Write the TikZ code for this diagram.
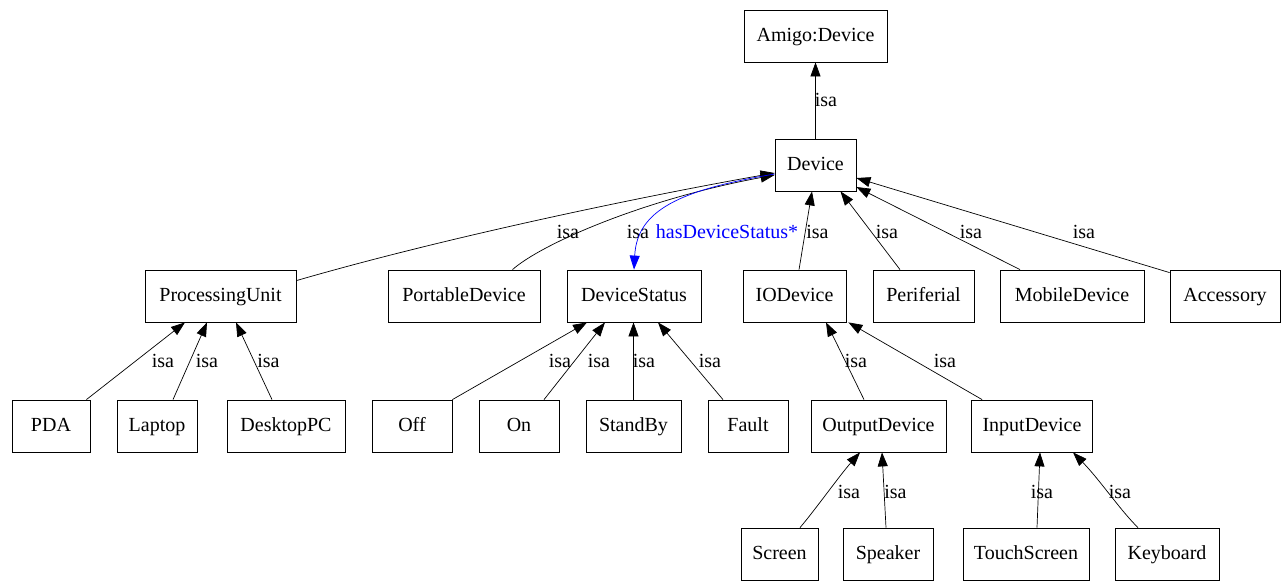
\documentclass[tikz,border=0pt]{standalone}
\usepackage{fontspec}
\setmainfont{Liberation Serif}
\usetikzlibrary{arrows.meta}
\definecolor{relblue}{RGB}{0,0,255}
\tikzset{
  box/.style={draw, line width=0.8pt, minimum height=52pt, inner sep=0pt, text height=14pt, text depth=4pt, font=\fontsize{20}{24}\selectfont},
  isa/.style={line width=0.7pt, -{Triangle[length=14pt,width=10pt]}},
  rel/.style={line width=0.7pt, draw=relblue, -{Triangle[length=14pt,width=10pt,fill=relblue]}},
  lbl/.style={inner sep=0pt, font=\fontsize{20}{24}\selectfont},
  rlbl/.style={lbl, text=relblue}
}
\begin{document}
\begin{tikzpicture}[x=1pt,y=-1pt]
\useasboundingbox[fill=white] (0,0) rectangle (1285,581);
% nodes
\node[box, minimum width=143pt] (amigo) at (815.5,36) {Amigo:Device};
\node[box, minimum width=81pt] (dev) at (815.5,165) {Device};
\node[box, minimum width=151pt] (pu) at (220.5,296) {ProcessingUnit};
\node[box, minimum width=152pt] (port) at (464,296) {PortableDevice};
\node[box, minimum width=134pt] (ds) at (634,296) {DeviceStatus};
\node[box, minimum width=103pt] (io) at (794.5,296) {IODevice};
\node[box, minimum width=101pt] (peri) at (923.5,296) {Periferial};
\node[box, minimum width=144pt] (mob) at (1072,296) {MobileDevice};
\node[box, minimum width=110pt] (acc) at (1225,296) {Accessory};
\node[box, minimum width=78pt] (pda) at (51,426) {PDA};
\node[box, minimum width=80pt] (laptop) at (157,426) {Laptop};
\node[box, minimum width=118pt] (desk) at (286,426) {DesktopPC};
\node[box, minimum width=80pt] (off) at (412,426) {Off};
\node[box, minimum width=80pt] (on) at (519,426) {On};
\node[box, minimum width=95pt] (standby) at (633.5,426) {StandBy};
\node[box, minimum width=80pt] (fault) at (748,426) {Fault};
\node[box, minimum width=135pt] (outd) at (878.5,426) {OutputDevice};
\node[box, minimum width=121pt] (ind) at (1032,426) {InputDevice};
\node[box, minimum width=77pt] (screen) at (779.5,554) {Screen};
\node[box, minimum width=90pt] (speaker) at (888,554) {Speaker};
\node[box, minimum width=126pt] (touch) at (1026,554) {TouchScreen};
\node[box, minimum width=104pt] (keyb) at (1167,554) {Keyboard};
% edges to Amigo:Device
\draw[isa] (dev.north) -- (amigo.south) node[lbl] at (826,100) {isa};
% edges to Device
\draw[isa] ([yshift=-11pt]pu.north east) .. controls (450,236) and (650,195) .. ([yshift=-8pt]dev.west) node[lbl] at (568,232) {isa};
\draw[isa] ([xshift=48.5pt]port.north) .. controls (540,245) and (640,200) .. ([yshift=-10pt]dev.west) node[lbl] at (638,232) {isa};
\draw[rel] ([yshift=-9pt]dev.west) .. controls (680,190) and (637,210) .. (ds.north) node[rlbl] at (727,232) {hasDeviceStatus*};
\draw[isa] ([xshift=4.5pt]io.north) -- ([xshift=-3.5pt]dev.south) node[lbl] at (817.5,232) {isa};
\draw[isa] ([xshift=-23.5pt]peri.north) -- ([xshift=25pt]dev.south) node[lbl] at (887,232) {isa};
\draw[isa] ([xshift=-52pt]mob.north) -- ([yshift=-22pt]dev.east) node[lbl] at (971,232) {isa};
\draw[isa] ([yshift=-3pt]acc.north west) -- ([yshift=-13pt]dev.east) node[lbl] at (1084,232) {isa};
% edges to ProcessingUnit
\draw[isa] ([xshift=-4pt]pda.north east) -- ([xshift=-35.5pt]pu.south) node[lbl] at (163,361) {isa};
\draw[isa] ([xshift=16pt]laptop.north) -- ([xshift=-13.5pt]pu.south) node[lbl] at (207,361) {isa};
\draw[isa] ([xshift=-14pt]desk.north) -- ([xshift=15.5pt]pu.south) node[lbl] at (268.5,361) {isa};
% edges to DeviceStatus
\draw[isa] (off.north east) -- ([xshift=-47pt]ds.south) node[lbl] at (560,361) {isa};
\draw[isa] ([xshift=25pt]on.north) -- ([xshift=-29pt]ds.south) node[lbl] at (599,361) {isa};
\draw[isa] (standby.north) -- (standby.north |- ds.south) node[lbl] at (644,361) {isa};
\draw[isa] ([xshift=-25pt]fault.north) -- ([xshift=24pt]ds.south) node[lbl] at (710,361) {isa};
% edges to IODevice
\draw[isa] ([xshift=-14.5pt]outd.north) .. controls (852,375) and (835,340) .. ([xshift=31.5pt]io.south) node[lbl] at (856,361) {isa};
\draw[isa] ([xshift=11pt]ind.north west) -- ([xshift=2pt]io.south east) node[lbl] at (945,361) {isa};
% edges to OutputDevice / InputDevice
\draw[isa] ([xshift=20.5pt]screen.north) .. controls (815,510) and (840,475) .. ([xshift=-18.5pt]outd.south) node[lbl] at (849,492) {isa};
\draw[isa] ([xshift=-2pt]speaker.north) -- ([xshift=3.5pt]outd.south) node[lbl] at (895.5,492) {isa};
\draw[isa] ([xshift=11pt]touch.north) -- ([xshift=8pt]ind.south) node[lbl] at (1042,492) {isa};
\draw[isa] ([xshift=-29pt]keyb.north) .. controls (1120,510) and (1100,480) .. ([xshift=41pt]ind.south) node[lbl] at (1120,492) {isa};
\end{tikzpicture}
\end{document}
